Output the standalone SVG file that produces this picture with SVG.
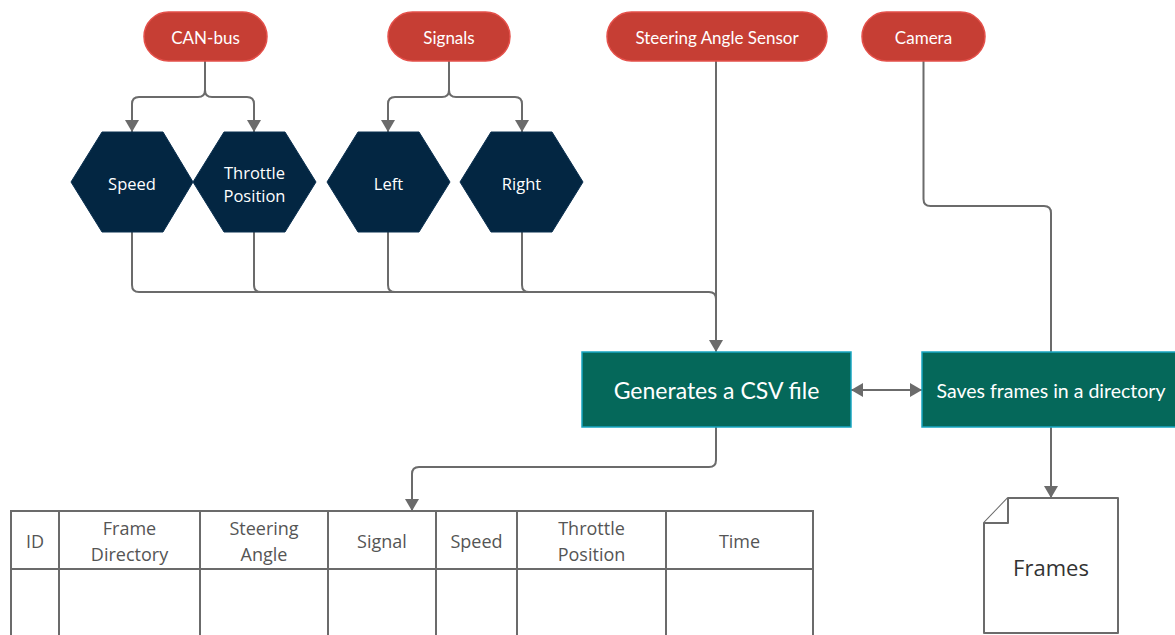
<svg xmlns="http://www.w3.org/2000/svg" width="1175" height="635" viewBox="0 0 1175 635">
  <defs>
    <marker id="arrow" viewBox="0 0 12 14" markerWidth="12" markerHeight="14" refX="12" refY="7" orient="auto-start-reverse" markerUnits="userSpaceOnUse">
      <path d="M0,0 L12,7 L0,14 z" fill="#6b6b6b"/>
    </marker>
    <style>
      .pill { fill: #c63e34; stroke: #e4504a; stroke-width: 1.5; }
      .pill-text { font-family: Lato, "Liberation Sans", sans-serif; font-size: 17px; fill: #ffffff; text-anchor: middle; dominant-baseline: central; }
      .hex { fill: #032642; stroke: #0b3050; stroke-width: 1; }
      .hex-text { font-family: "Open Sans", "Noto Sans", sans-serif; font-size: 16.5px; font-weight: 500; fill: #ffffff; text-anchor: middle; dominant-baseline: central; }
      .proc { fill: #05685a; stroke: #19a6c2; stroke-width: 1.5; }
      .proc-text { font-family: Lato, "Liberation Sans", sans-serif; fill: #ffffff; text-anchor: middle; dominant-baseline: central; }
      .conn { fill: none; stroke: #6b6b6b; stroke-width: 2; }
      .grid { fill: #ffffff; stroke: #6b6b6b; stroke-width: 2; }
      .cell-text { font-family: "Open Sans", "Noto Sans", sans-serif; font-size: 18px; fill: #555555; text-anchor: middle; dominant-baseline: central; }
      .doc { fill: #ffffff; stroke: #6b6b6b; stroke-width: 2; stroke-linejoin: round; }
    </style>
  </defs>

  <rect width="1175" height="635" fill="#ffffff"/>

  <!-- connectors -->
  <g id="connectors">
    <!-- CAN-bus splits into Speed and Throttle Position -->
    <path class="conn" d="M205,61 V90 Q205,97 198,97 H139 Q132,97 132,104 V132" marker-end="url(#arrow)"/>
    <path class="conn" d="M205,90 Q205,97 212,97 H247 Q254,97 254,104 V132" marker-end="url(#arrow)"/>
    <!-- Signals splits into Left and Right -->
    <path class="conn" d="M449,61 V90 Q449,97 442,97 H395 Q388,97 388,104 V132" marker-end="url(#arrow)"/>
    <path class="conn" d="M449,90 Q449,97 456,97 H515 Q522,97 522,104 V132" marker-end="url(#arrow)"/>
    <!-- hexagon outputs gathered into the CSV generator -->
    <path class="conn" d="M132,232 V285 Q132,292 139,292 H709 Q716,292 716,299"/>
    <path class="conn" d="M254,232 V285 Q254,292 261,292"/>
    <path class="conn" d="M388,232 V285 Q388,292 395,292"/>
    <path class="conn" d="M522,232 V285 Q522,292 529,292"/>
    <!-- steering angle sensor to CSV generator -->
    <path class="conn" d="M716,61 V352" marker-end="url(#arrow)"/>
    <!-- camera to frame saver -->
    <path class="conn" d="M923.5,61 V199 Q923.5,206 930.5,206 H1044 Q1051,206 1051,213 V352"/>
    <!-- CSV generator <-> frame saver -->
    <path class="conn" d="M851,390 H922" marker-start="url(#arrow)" marker-end="url(#arrow)"/>
    <!-- CSV generator to table -->
    <path class="conn" d="M716,427 V460 Q716,467 709,467 H419 Q412,467 412,474 V511" marker-end="url(#arrow)"/>
    <!-- frame saver to frames document -->
    <path class="conn" d="M1051,427 V498" marker-end="url(#arrow)"/>
  </g>

  <!-- sources -->
  <g id="can-bus">
    <rect class="pill" x="144" y="12" width="123" height="49" rx="24.5"/>
    <text class="pill-text" x="205.5" y="37">CAN-bus</text>
  </g>
  <g id="signals">
    <rect class="pill" x="388" y="12" width="122" height="49" rx="24.5"/>
    <text class="pill-text" x="449" y="37">Signals</text>
  </g>
  <g id="steering-sensor">
    <rect class="pill" x="607" y="12" width="220" height="49" rx="24.5"/>
    <text class="pill-text" x="717" y="37">Steering Angle Sensor</text>
  </g>
  <g id="camera">
    <rect class="pill" x="862" y="12" width="123" height="49" rx="24.5"/>
    <text class="pill-text" x="923.5" y="37">Camera</text>
  </g>

  <!-- signal hexagons -->
  <g id="speed">
    <polygon class="hex" points="71,182 102,132 163,132 193,182 163,232 102,232"/>
    <text class="hex-text" x="132" y="183">Speed</text>
  </g>
  <g id="throttle-position">
    <polygon class="hex" points="193,182 224,132 285,132 316,182 285,232 224,232"/>
    <text class="hex-text" x="254.5" y="172">Throttle</text>
    <text class="hex-text" x="254.5" y="195">Position</text>
  </g>
  <g id="left">
    <polygon class="hex" points="327,182 358,132 419,132 450,182 419,232 358,232"/>
    <text class="hex-text" x="388.5" y="183">Left</text>
  </g>
  <g id="right">
    <polygon class="hex" points="460,182 491,132 552,132 583,182 552,232 491,232"/>
    <text class="hex-text" x="521.5" y="183">Right</text>
  </g>

  <!-- processes -->
  <g id="generate-csv">
    <rect class="proc" x="582" y="352" width="269" height="75"/>
    <text class="proc-text" x="716.5" y="390" font-size="23">Generates a CSV file</text>
  </g>
  <g id="save-frames">
    <rect class="proc" x="922" y="352" width="260" height="75"/>
    <text class="proc-text" x="1051" y="390" font-size="19.5">Saves frames in a directory</text>
  </g>

  <!-- CSV table -->
  <g id="csv-table">
    <rect class="grid" x="11" y="511" width="802" height="140"/>
    <line class="grid" x1="11" y1="569" x2="813" y2="569"/>
    <line class="grid" x1="59" y1="511" x2="59" y2="640"/>
    <line class="grid" x1="200" y1="511" x2="200" y2="640"/>
    <line class="grid" x1="328" y1="511" x2="328" y2="640"/>
    <line class="grid" x1="436" y1="511" x2="436" y2="640"/>
    <line class="grid" x1="517" y1="511" x2="517" y2="640"/>
    <line class="grid" x1="666" y1="511" x2="666" y2="640"/>
    <text class="cell-text" x="35" y="541">ID</text>
    <text class="cell-text" x="129.5" y="528">Frame</text>
    <text class="cell-text" x="129.5" y="554">Directory</text>
    <text class="cell-text" x="264" y="528">Steering</text>
    <text class="cell-text" x="264" y="554">Angle</text>
    <text class="cell-text" x="382" y="541">Signal</text>
    <text class="cell-text" x="476.5" y="541">Speed</text>
    <text class="cell-text" x="591.5" y="528">Throttle</text>
    <text class="cell-text" x="591.5" y="554">Position</text>
    <text class="cell-text" x="739.5" y="541">Time</text>
  </g>

  <!-- frames document -->
  <g id="frames">
    <path class="doc" d="M1008,498 H1118 V633 H984 V523 Z"/>
    <path class="doc" d="M1008,498 V523 H984"/>
    <text x="1051" y="567" font-family="'Open Sans', 'Noto Sans', sans-serif" font-size="22" fill="#333333" text-anchor="middle" dominant-baseline="central">Frames</text>
  </g>
</svg>
